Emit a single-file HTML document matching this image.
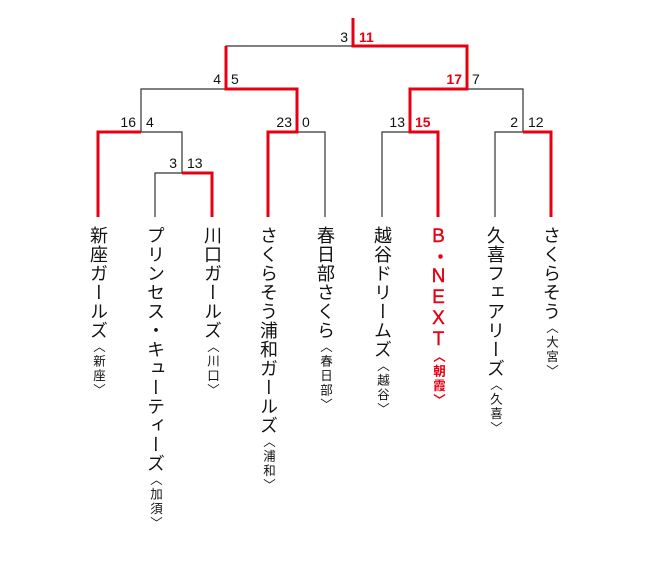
<!DOCTYPE html>
<html><head><meta charset="utf-8"><style>
body{margin:0;width:650px;height:568px;background:#fff;position:relative;overflow:hidden;font-family:"Liberation Sans","Noto Sans CJK JP",sans-serif}
svg{position:absolute;left:0;top:0}
.t{position:absolute;top:226px;writing-mode:vertical-rl;font-size:18px;line-height:20px;letter-spacing:1px;color:#111;width:20px}
.t small{font-size:12.5px;letter-spacing:2px}
.r{color:#e60012}
.r .u{text-orientation:upright;letter-spacing:0;font-size:19px;line-height:19px;display:inline-block;-webkit-text-stroke:0.4px #e60012}
.r small{font-weight:bold}
</style></head><body>
<svg width="650" height="568">
<g stroke="#333" stroke-width="1.2" fill="none">
<polyline points="226,89 226,46 353,46"/>
<polyline points="141,132 141,89 226,89"/>
<polyline points="141,132 182,132 182,173"/>
<polyline points="155,217 155,173 182,173"/>
<polyline points="297,132 325,132 325,217"/>
<polyline points="382,217 382,132 410,132"/>
<polyline points="467,89 523,89 523,132"/>
<polyline points="495,217 495,132 523,132"/>
</g>
<g stroke="#e60012" stroke-width="3" fill="none" stroke-linejoin="miter">
<polyline points="353,18 353,46 467,46 467,89 410,89 410,132 438,132 438,217"/>
<polyline points="226,46 226,89 297,89 297,132 268,132 268,217"/>
<polyline points="98,217 98,132 141,132"/>
<polyline points="182,173 212,173 212,217"/>
<polyline points="523,132 551,132 551,217"/>
</g>
<g font-size="14" fill="#111" font-family="Liberation Sans, sans-serif">
<text x="348" y="42" text-anchor="end">3</text>
<text x="221" y="84" text-anchor="end">4</text>
<text x="231" y="84">5</text>
<text x="472" y="84">7</text>
<text x="136" y="127" text-anchor="end">16</text>
<text x="146" y="127">4</text>
<text x="292" y="127" text-anchor="end">23</text>
<text x="302" y="127">0</text>
<text x="405" y="127" text-anchor="end">13</text>
<text x="518" y="127" text-anchor="end">2</text>
<text x="528" y="127">12</text>
<text x="177" y="168" text-anchor="end">3</text>
<text x="187" y="168">13</text>
</g>
<g font-size="14" fill="#e60012" font-weight="bold" font-family="Liberation Sans, sans-serif">
<text x="359" y="42">11</text>
<text x="462" y="84" text-anchor="end">17</text>
<text x="415" y="127">15</text>
</g>
</svg>
<div class="t" style="left:88px">新座ガールズ<small>〈新座〉</small></div>
<div class="t" style="left:145px">プリンセス・キューティーズ<small>〈加須〉</small></div>
<div class="t" style="left:202px">川口ガールズ<small>〈川口〉</small></div>
<div class="t" style="left:258px">さくらそう浦和ガールズ<small>〈浦和〉</small></div>
<div class="t" style="left:315px">春日部さくら<small>〈春日部〉</small></div>
<div class="t" style="left:372px">越谷ドリームズ<small>〈越谷〉</small></div>
<div class="t r" style="left:428px"><span class="u">B・NEXT</span><small>〈朝霞〉</small></div>
<div class="t" style="left:485px">久喜フェアリーズ<small>〈久喜〉</small></div>
<div class="t" style="left:541px">さくらそう<small>〈大宮〉</small></div>
</body></html>
